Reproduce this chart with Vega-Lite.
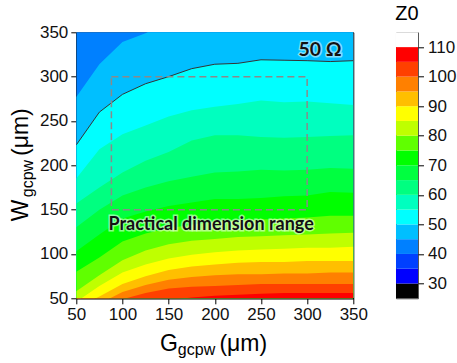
{
  "$schema": "https://vega.github.io/schema/vega-lite/v6.json",
  "background": "white",
  "padding": {"left": 9.3, "top": 3.3, "right": 0, "bottom": 0},
  "config": {
    "font": "Liberation Sans",
    "view": {"stroke": "#000", "strokeWidth": 1}
  },
  "datasets": {
    "contours": [
      {"level": 40, "G": 50, "W": 400}, {"level": 40, "G": 350, "W": 400},
      {"level": 45, "G": 50, "W": 277}, {"level": 45, "G": 75, "W": 314}, {"level": 45, "G": 100, "W": 339}, {"level": 45, "G": 125, "W": 349}, {"level": 45, "G": 150, "W": 362}, {"level": 45, "G": 175, "W": 375}, {"level": 45, "G": 200, "W": 385}, {"level": 45, "G": 225, "W": 390}, {"level": 45, "G": 250, "W": 395}, {"level": 45, "G": 275, "W": 400}, {"level": 45, "G": 300, "W": 400}, {"level": 45, "G": 325, "W": 400}, {"level": 45, "G": 350, "W": 400},
      {"level": 50, "G": 50, "W": 223}, {"level": 50, "G": 75, "W": 260}, {"level": 50, "G": 100, "W": 280}, {"level": 50, "G": 125, "W": 292}, {"level": 50, "G": 150, "W": 300}, {"level": 50, "G": 175, "W": 309}, {"level": 50, "G": 200, "W": 314}, {"level": 50, "G": 225, "W": 315}, {"level": 50, "G": 250, "W": 319}, {"level": 50, "G": 275, "W": 318.5}, {"level": 50, "G": 300, "W": 318}, {"level": 50, "G": 325, "W": 317}, {"level": 50, "G": 350, "W": 318},
      {"level": 55, "G": 50, "W": 185}, {"level": 55, "G": 75, "W": 218}, {"level": 55, "G": 100, "W": 235}, {"level": 55, "G": 125, "W": 245}, {"level": 55, "G": 150, "W": 255}, {"level": 55, "G": 175, "W": 262}, {"level": 55, "G": 200, "W": 266}, {"level": 55, "G": 225, "W": 269}, {"level": 55, "G": 250, "W": 273}, {"level": 55, "G": 275, "W": 271}, {"level": 55, "G": 300, "W": 272}, {"level": 55, "G": 325, "W": 270}, {"level": 55, "G": 350, "W": 268},
      {"level": 60, "G": 50, "W": 157}, {"level": 60, "G": 75, "W": 175}, {"level": 60, "G": 100, "W": 192}, {"level": 60, "G": 125, "W": 205}, {"level": 60, "G": 150, "W": 215}, {"level": 60, "G": 175, "W": 228}, {"level": 60, "G": 200, "W": 234}, {"level": 60, "G": 225, "W": 234}, {"level": 60, "G": 250, "W": 232}, {"level": 60, "G": 275, "W": 231}, {"level": 60, "G": 300, "W": 232}, {"level": 60, "G": 325, "W": 233}, {"level": 60, "G": 350, "W": 234},
      {"level": 65, "G": 50, "W": 130}, {"level": 65, "G": 75, "W": 150}, {"level": 65, "G": 100, "W": 166}, {"level": 65, "G": 125, "W": 175}, {"level": 65, "G": 150, "W": 182}, {"level": 65, "G": 175, "W": 187}, {"level": 65, "G": 200, "W": 192}, {"level": 65, "G": 225, "W": 193}, {"level": 65, "G": 250, "W": 195}, {"level": 65, "G": 275, "W": 194}, {"level": 65, "G": 300, "W": 195}, {"level": 65, "G": 325, "W": 197}, {"level": 65, "G": 350, "W": 196},
      {"level": 70, "G": 50, "W": 103}, {"level": 70, "G": 75, "W": 122}, {"level": 70, "G": 100, "W": 140}, {"level": 70, "G": 125, "W": 148}, {"level": 70, "G": 150, "W": 154}, {"level": 70, "G": 175, "W": 158}, {"level": 70, "G": 200, "W": 162}, {"level": 70, "G": 225, "W": 162}, {"level": 70, "G": 250, "W": 163}, {"level": 70, "G": 275, "W": 165}, {"level": 70, "G": 300, "W": 166}, {"level": 70, "G": 325, "W": 170}, {"level": 70, "G": 350, "W": 169},
      {"level": 75, "G": 50, "W": 80}, {"level": 75, "G": 75, "W": 96}, {"level": 75, "G": 100, "W": 114}, {"level": 75, "G": 125, "W": 123}, {"level": 75, "G": 150, "W": 129}, {"level": 75, "G": 175, "W": 133}, {"level": 75, "G": 200, "W": 136}, {"level": 75, "G": 225, "W": 138}, {"level": 75, "G": 250, "W": 139}, {"level": 75, "G": 275, "W": 140}, {"level": 75, "G": 300, "W": 141}, {"level": 75, "G": 325, "W": 143}, {"level": 75, "G": 350, "W": 143},
      {"level": 80, "G": 50, "W": 58}, {"level": 80, "G": 75, "W": 76}, {"level": 80, "G": 100, "W": 93}, {"level": 80, "G": 125, "W": 104}, {"level": 80, "G": 150, "W": 111}, {"level": 80, "G": 175, "W": 115}, {"level": 80, "G": 200, "W": 117}, {"level": 80, "G": 225, "W": 119}, {"level": 80, "G": 250, "W": 120}, {"level": 80, "G": 275, "W": 121}, {"level": 80, "G": 300, "W": 122}, {"level": 80, "G": 325, "W": 123}, {"level": 80, "G": 350, "W": 124},
      {"level": 85, "G": 50, "W": 46}, {"level": 85, "G": 75, "W": 64}, {"level": 85, "G": 100, "W": 79}, {"level": 85, "G": 125, "W": 88}, {"level": 85, "G": 150, "W": 95}, {"level": 85, "G": 175, "W": 99}, {"level": 85, "G": 200, "W": 102}, {"level": 85, "G": 225, "W": 104}, {"level": 85, "G": 250, "W": 105}, {"level": 85, "G": 275, "W": 106}, {"level": 85, "G": 300, "W": 107}, {"level": 85, "G": 325, "W": 107}, {"level": 85, "G": 350, "W": 108},
      {"level": 90, "G": 50, "W": 40}, {"level": 90, "G": 75, "W": 52}, {"level": 90, "G": 100, "W": 66}, {"level": 90, "G": 125, "W": 75}, {"level": 90, "G": 150, "W": 82}, {"level": 90, "G": 175, "W": 86}, {"level": 90, "G": 200, "W": 88}, {"level": 90, "G": 225, "W": 90}, {"level": 90, "G": 250, "W": 91}, {"level": 90, "G": 275, "W": 91}, {"level": 90, "G": 300, "W": 92}, {"level": 90, "G": 325, "W": 92}, {"level": 90, "G": 350, "W": 92},
      {"level": 95, "G": 50, "W": 30}, {"level": 95, "G": 75, "W": 44}, {"level": 95, "G": 100, "W": 57}, {"level": 95, "G": 125, "W": 65}, {"level": 95, "G": 150, "W": 71}, {"level": 95, "G": 175, "W": 74}, {"level": 95, "G": 200, "W": 76}, {"level": 95, "G": 225, "W": 77}, {"level": 95, "G": 250, "W": 77}, {"level": 95, "G": 275, "W": 78}, {"level": 95, "G": 300, "W": 78}, {"level": 95, "G": 325, "W": 79}, {"level": 95, "G": 350, "W": 79},
      {"level": 100, "G": 50, "W": 20}, {"level": 100, "G": 75, "W": 36}, {"level": 100, "G": 100, "W": 49}, {"level": 100, "G": 125, "W": 56}, {"level": 100, "G": 150, "W": 61}, {"level": 100, "G": 175, "W": 63}, {"level": 100, "G": 200, "W": 64}, {"level": 100, "G": 225, "W": 65}, {"level": 100, "G": 250, "W": 66}, {"level": 100, "G": 275, "W": 66}, {"level": 100, "G": 300, "W": 66}, {"level": 100, "G": 325, "W": 66}, {"level": 100, "G": 350, "W": 66},
      {"level": 105, "G": 50, "W": -10}, {"level": 105, "G": 75, "W": 20}, {"level": 105, "G": 100, "W": 35}, {"level": 105, "G": 125, "W": 42}, {"level": 105, "G": 150, "W": 48}, {"level": 105, "G": 175, "W": 51}, {"level": 105, "G": 200, "W": 53}, {"level": 105, "G": 225, "W": 54}, {"level": 105, "G": 250, "W": 55}, {"level": 105, "G": 275, "W": 56}, {"level": 105, "G": 300, "W": 56}, {"level": 105, "G": 325, "W": 56}, {"level": 105, "G": 350, "W": 56}
    ],
    "colorbar": [
      {"lo": 25, "hi": 30}, {"lo": 30, "hi": 35}, {"lo": 35, "hi": 40}, {"lo": 40, "hi": 45},
      {"lo": 45, "hi": 50}, {"lo": 50, "hi": 55}, {"lo": 55, "hi": 60}, {"lo": 60, "hi": 65},
      {"lo": 65, "hi": 70}, {"lo": 70, "hi": 75}, {"lo": 75, "hi": 80}, {"lo": 80, "hi": 85},
      {"lo": 85, "hi": 90}, {"lo": 90, "hi": 95}, {"lo": 95, "hi": 100}, {"lo": 100, "hi": 105},
      {"lo": 105, "hi": 110}, {"lo": 110, "hi": 115}
    ],
    "window": [
      {"G0": 88, "G1": 300, "W0": 150, "W1": 300}
    ],
    "one": [{}]
  },
  "spacing": 25.7,
  "resolve": {"scale": {"color": "independent"}},
  "hconcat": [
    {
      "width": 277,
      "height": 266,
      "layer": [
        {
          "data": {"name": "contours"},
          "mark": {"type": "area", "clip": true, "interpolate": "linear"},
          "encoding": {
            "x": {
              "field": "G", "type": "quantitative", "title": null,
              "scale": {"domain": [50, 350], "nice": false, "zero": false},
              "axis": {
                "title": null, "grid": false,
                "values": [50, 75, 100, 125, 150, 175, 200, 225, 250, 275, 300, 325, 350],
                "labelExpr": "datum.value % 50 === 0 ? datum.label : ''",
                "tickSize": {"condition": {"test": "datum.value % 50 === 0", "value": 5.5}, "value": 3},
                "tickColor": "#000", "domainColor": "#000",
                "labelFontSize": 17, "labelColor": "#111", "labelPadding": 3,
                "labelOverlap": false, "labelFlush": false, "labelBound": false
              }
            },
            "y": {
              "field": "W", "type": "quantitative", "title": null, "stack": null,
              "scale": {"domain": [50, 350], "nice": false, "zero": false},
              "axis": {
                "title": null, "grid": false,
                "values": [50, 75, 100, 125, 150, 175, 200, 225, 250, 275, 300, 325, 350],
                "labelExpr": "datum.value % 50 === 0 ? datum.label : ''",
                "tickSize": {"condition": {"test": "datum.value % 50 === 0", "value": 5.5}, "value": 3},
                "tickColor": "#000", "domainColor": "#000",
                "labelFontSize": 17, "labelColor": "#111", "labelPadding": 3,
                "labelOverlap": false, "labelFlush": false, "labelBound": false
              }
            },
            "y2": {"datum": 50},
            "color": {
              "field": "level", "type": "ordinal", "legend": null,
              "scale": {
                "domain": [40, 45, 50, 55, 60, 65, 70, 75, 80, 85, 90, 95, 100, 105],
                "range": ["#0080ff", "#00bfff", "#00ffff", "#00ffbf", "#00ff80", "#00ff40", "#00ff00", "#60ff00", "#bfff00", "#ffff00", "#ffbf00", "#ff8000", "#ff4000", "#ff0000"]
              }
            }
          }
        },
        {
          "data": {"name": "contours"},
          "transform": [{"filter": "datum.level === 50"}],
          "mark": {"type": "line", "clip": true, "color": "#333333", "strokeWidth": 1},
          "encoding": {
            "x": {"field": "G", "type": "quantitative", "title": null},
            "y": {"field": "W", "type": "quantitative", "title": null}
          }
        },
        {
          "data": {"name": "window"},
          "mark": {"type": "rect", "fillOpacity": 0, "stroke": "#8a8a8a", "strokeWidth": 1.5, "strokeDash": [7, 4]},
          "encoding": {
            "x": {"field": "G0", "type": "quantitative", "title": null},
            "x2": {"field": "G1"},
            "y": {"field": "W0", "type": "quantitative", "title": null},
            "y2": {"field": "W1"}
          }
        },
        {
          "data": {"name": "one"},
          "mark": {"type": "text", "font": "Lato", "fontWeight": "bold", "fontSize": 18, "align": "center", "baseline": "alphabetic", "fill": "#ffffff", "stroke": "#ffffff", "strokeWidth": 3, "strokeOpacity": 0.55, "fillOpacity": 0.6},
          "encoding": {
            "x": {"datum": 196},
            "y": {"datum": 127},
            "text": {"value": "Practical dimension range"}
          }
        },
        {
          "data": {"name": "one"},
          "mark": {"type": "text", "font": "Lato", "fontWeight": "bold", "fontSize": 18, "align": "center", "baseline": "alphabetic", "color": "#111111"},
          "encoding": {
            "x": {"datum": 196},
            "y": {"datum": 127},
            "text": {"value": "Practical dimension range"}
          }
        },
        {
          "data": {"name": "one"},
          "mark": {"type": "text", "font": "Lato", "fontWeight": "bold", "fontSize": 19.5, "align": "center", "baseline": "alphabetic", "fill": "#ffffff", "stroke": "#ffffff", "strokeWidth": 3, "strokeOpacity": 0.5, "fillOpacity": 0.6},
          "encoding": {
            "x": {"datum": 314},
            "y": {"datum": 323},
            "text": {"value": "50 Ω"}
          }
        },
        {
          "data": {"name": "one"},
          "mark": {"type": "text", "font": "Lato", "fontWeight": "bold", "fontSize": 19.5, "align": "center", "baseline": "alphabetic", "color": "#111111"},
          "encoding": {
            "x": {"datum": 314},
            "y": {"datum": 323},
            "text": {"value": "50 Ω"}
          }
        },
        {
          "data": {"name": "one"},
          "mark": {"type": "text", "fontSize": 23, "align": "right", "baseline": "alphabetic", "color": "#000"},
          "encoding": {"x": {"datum": 160}, "y": {"datum": -9.4}, "text": {"value": "G"}}
        },
        {
          "data": {"name": "one"},
          "mark": {"type": "text", "fontSize": 16, "align": "left", "baseline": "alphabetic", "color": "#000"},
          "encoding": {"x": {"datum": 160}, "y": {"datum": -14}, "text": {"value": "gcpw"}}
        },
        {
          "data": {"name": "one"},
          "mark": {"type": "text", "fontSize": 23, "align": "left", "baseline": "alphabetic", "color": "#000"},
          "encoding": {"x": {"datum": 205}, "y": {"datum": -9.4}, "text": {"value": "(μm)"}}
        },
        {
          "data": {"name": "one"},
          "mark": {"type": "text", "fontSize": 23, "angle": 270, "align": "left", "baseline": "alphabetic", "color": "#000"},
          "encoding": {"x": {"datum": -1.8}, "y": {"datum": 137}, "text": {"value": "W"}}
        },
        {
          "data": {"name": "one"},
          "mark": {"type": "text", "fontSize": 16, "angle": 270, "align": "left", "baseline": "alphabetic", "color": "#000"},
          "encoding": {"x": {"datum": 2.6}, "y": {"datum": 164}, "text": {"value": "gcpw"}}
        },
        {
          "data": {"name": "one"},
          "mark": {"type": "text", "fontSize": 23, "angle": 270, "align": "left", "baseline": "alphabetic", "color": "#000"},
          "encoding": {"x": {"datum": -1.8}, "y": {"datum": 210.5}, "text": {"value": "(μm)"}}
        }
      ]
    },
    {
      "width": 22,
      "height": 266,
      "view": {"stroke": "#555555", "strokeWidth": 1},
      "title": {"text": "Z0", "fontSize": 20, "fontWeight": "normal", "font": "Liberation Sans", "color": "#000", "frame": "group", "anchor": "middle", "offset": 8},
      "data": {"name": "colorbar"},
      "mark": {"type": "rect"},
      "encoding": {
        "y": {
          "field": "lo", "type": "quantitative", "title": null,
          "scale": {"domain": [25, 115], "nice": false, "zero": false},
          "axis": {
            "orient": "right", "title": null, "grid": false, "domain": false,
            "values": [30, 40, 50, 60, 70, 80, 90, 100, 110],
            "tickSize": 5.5, "tickColor": "#000",
            "labelFontSize": 17, "labelColor": "#111", "labelPadding": 4
          }
        },
        "y2": {"field": "hi"},
        "color": {
          "field": "lo", "type": "ordinal", "legend": null,
          "scale": {
            "domain": [25, 30, 35, 40, 45, 50, 55, 60, 65, 70, 75, 80, 85, 90, 95, 100, 105, 110],
            "range": ["#000000", "#0000ff", "#0040ff", "#0080ff", "#00bfff", "#00ffff", "#00ffbf", "#00ff80", "#00ff40", "#00ff00", "#60ff00", "#bfff00", "#ffff00", "#ffbf00", "#ff8000", "#ff4000", "#ff0000", "#ffffff"]
          }
        }
      }
    }
  ]
}
